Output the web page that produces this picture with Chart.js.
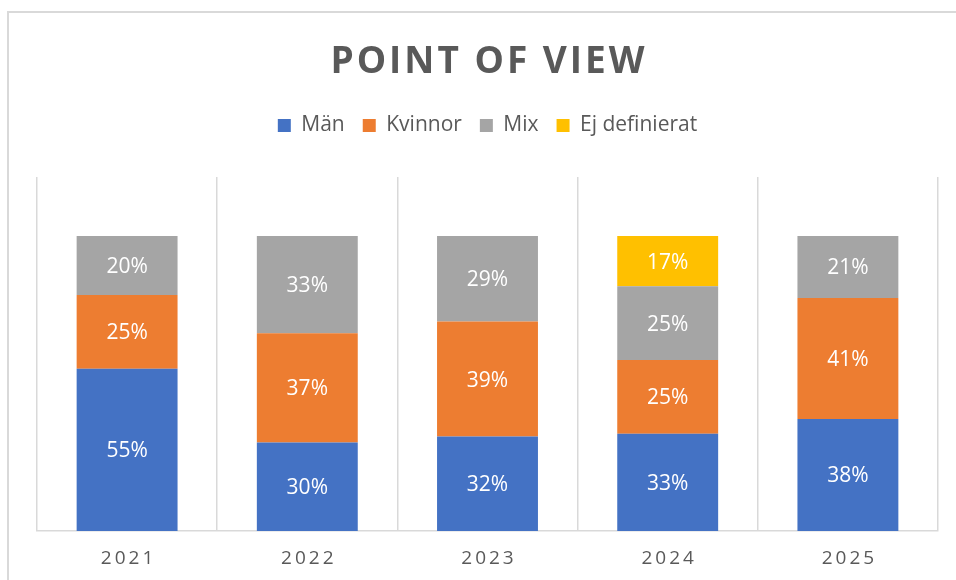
<!DOCTYPE html>
<html>
<head>
<meta charset="utf-8">
<script src="https://cdn.jsdelivr.net/npm/chart.js@4.4.1/dist/chart.umd.min.js"></script>
<style>
html,body{margin:0;padding:0;background:#fff;}
#wrap{position:relative;width:956px;height:580px;overflow:hidden;}
#frame{position:absolute;left:7px;top:11px;width:2000px;height:2000px;border-left:2px solid #d9d9d9;border-top:2px solid #d9d9d9;}
canvas{position:absolute;left:0;top:0;}
</style>
</head>
<body>
<div id="wrap"><div id="frame"></div><canvas id="c" width="956" height="580"></canvas></div>
<script>
const chartTitle = 'POINT OF VIEW';
const years = ['2021', '2022', '2023', '2024', '2025'];
const seriesNames = ['Män', 'Kvinnor', 'Mix', 'Ej definierat'];
const man = [55, 30, 32, 33, 38];
const kvinnor = [25, 37, 39, 25, 41];
const mix = [20, 33, 29, 25, 21];
const ejDefinierat = [null, null, null, 17, null];
const seriesColors = ['#4472C4', '#ED7D31', '#A5A5A5', '#FFC000'];

const FONT = '"Open Sans", "Noto Sans", sans-serif';
const TEXT_COLOR = '#595959';

class SpacedCategoryScale extends Chart.CategoryScale {
  drawLabels(area) {
    const ctx = this.ctx;
    ctx.save();
    ctx.letterSpacing = '3px';
    ctx.translate(1.5, 0);
    super.drawLabels(area);
    ctx.restore();
  }
}
SpacedCategoryScale.id = 'spacedCategory';
SpacedCategoryScale.defaults = Chart.CategoryScale.defaults;
Chart.register(SpacedCategoryScale);

const titlePlugin = {
  id: 'spacedTitle',
  afterDraw(chart) {
    const ctx = chart.ctx;
    const a = chart.chartArea;
    ctx.save();
    ctx.font = 'bold 37px ' + FONT;
    ctx.letterSpacing = '3px';
    ctx.fillStyle = TEXT_COLOR;
    ctx.textAlign = 'center';
    ctx.textBaseline = 'alphabetic';
    ctx.fillText(chartTitle, (a.left + a.right) / 2 + 1.5, 73);
    ctx.restore();
  }
};

const legendGap = {
  id: 'legendGap',
  beforeInit(chart) {
    const lg = chart.legend;
    const fit = lg.fit;
    lg.fit = function () {
      fit.call(this);
      this.height += 31;
    };
  }
};

const valueLabels = {
  id: 'valueLabels',
  afterDatasetsDraw(chart) {
    const ctx = chart.ctx;
    ctx.save();
    ctx.font = '21px ' + FONT;
    ctx.fillStyle = '#ffffff';
    ctx.textAlign = 'center';
    ctx.textBaseline = 'middle';
    chart.data.datasets.forEach((ds, i) => {
      const meta = chart.getDatasetMeta(i);
      if (meta.hidden) return;
      meta.data.forEach((el, j) => {
        const v = ds.data[j];
        if (v == null || v === 0) return;
        ctx.fillText(v + '%', el.x, (el.y + el.base) / 2 + 1.5);
      });
    });
    ctx.restore();
  }
};

const seriesData = [man, kvinnor, mix, ejDefinierat];

new Chart(document.getElementById('c'), {
  type: 'bar',
  data: {
    labels: years,
    datasets: seriesNames.map((name, i) => ({
      label: name,
      data: seriesData[i],
      backgroundColor: seriesColors[i],
      borderWidth: 0,
      barPercentage: 0.56,
      categoryPercentage: 1.0
    }))
  },
  options: {
    responsive: false,
    animation: false,
    devicePixelRatio: 1,
    layout: { padding: { left: 37, right: 18, top: 97, bottom: 11 } },
    plugins: {
      title: { display: false },
      tooltip: { enabled: false },
      legend: {
        display: true,
        position: 'top',
        labels: {
          boxWidth: 13,
          boxHeight: 13,
          padding: 18,
          color: TEXT_COLOR,
          font: { family: FONT, size: 21 }
        }
      }
    },
    scales: {
      x: {
        type: 'spacedCategory',
        stacked: true,
        offset: true,
        grid: { display: true, offset: true, color: '#d9d9d9', lineWidth: 1.5, drawTicks: false },
        border: { display: true, color: '#d9d9d9', width: 1.5 },
        ticks: { color: TEXT_COLOR, padding: 16, font: { family: FONT, size: 19 } },
        afterFit(scale) { scale.height = 38; }
      },
      y: {
        stacked: true,
        display: false,
        min: 0,
        max: 120
      }
    }
  },
  plugins: [legendGap, valueLabels, titlePlugin]
});
</script>
</body>
</html>
